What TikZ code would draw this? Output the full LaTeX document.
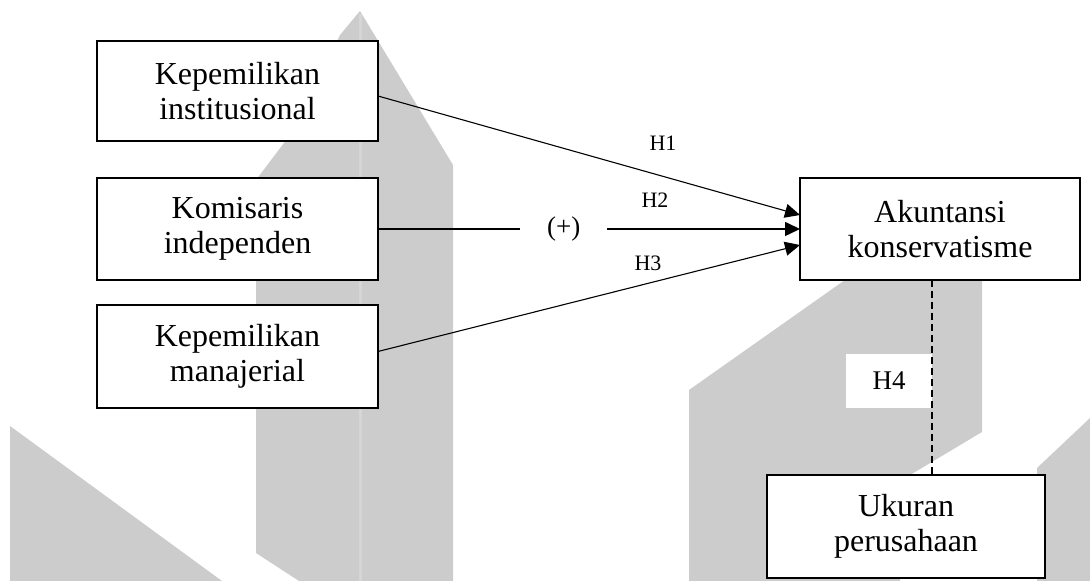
\documentclass[tikz,border=0pt]{standalone}
\usepackage{fontspec}
\setmainfont{Liberation Serif}
\usetikzlibrary{arrows.meta, calc}

\begin{document}
\begin{tikzpicture}[y=0.50pt, x=0.50pt, yscale=-1.000000, xscale=1.000000, inner sep=0pt, outer sep=0pt,
	varbox/.style={rectangle, draw=black, line width=0.9, fill=white, minimum width=140.5, minimum height=50, align=center, font=\fontsize{16}{17.5}\selectfont},
	hlabel/.style={font=\fontsize{11}{13}\selectfont},
	link/.style={line width=0.55, -{Triangle[length=7.5pt, width=7pt]}}]
\useasboundingbox (0,0) rectangle (1090,581);
% watermark in the background
\fill[black!20] (360,11) -- (340,35) -- (290,135) -- (256,180) -- (256,553) -- (299,581) -- (453,581) -- (453,165) -- cycle;
\fill[black!20] (10,426) -- (222,581) -- (10,581) -- cycle;
\fill[black!20] (689,581) -- (689,390) -- (845,280) -- (982,280) -- (982,432) -- (900,481) -- (900,581) -- cycle;
\fill[black!20] (1037,581) -- (1037,468) -- (1090,418) -- (1090,581) -- cycle;
\draw[black!16, line width=1.5] (360,14) -- (360,581);
% variables
\node[varbox] (KI) at (237.5,91) {Kepemilikan\\institusional};
\node[varbox, minimum height=51] (KO) at (237.5,229) {Komisaris\\independen};
\node[varbox, minimum height=51.5] (KM) at (237.5,356.5) {Kepemilikan\\manajerial};
\node[varbox, minimum width=140, minimum height=51] (AK) at (940,229) {Akuntansi\\konservatisme};
\node[varbox, minimum width=139, minimum height=51.5] (UP) at (906,526.5) {Ukuran\\perusahaan};
% hypotheses
\node[hlabel] (H1) at (663,143) {H1};
\node[hlabel] (H2) at (655,200) {H2};
\node[hlabel] (H3) at (648,263) {H3};
\node[fill=white, minimum width=43, minimum height=27, font=\fontsize{13.5}{15}\selectfont] (H4) at (889,381) {H4};
\draw[link] ($(KI.east)+(0,5)$) -- ($(AK.west)+(0,-14)$);
\draw[link, line width=0.75] (KO.east) -- node[pos=0.44, fill=white, minimum width=43.5, minimum height=14, font=\fontsize{13.5}{15}\selectfont] (PL) {(+)} (AK.west);
\draw[link] ($(KM.east)+(0,-5)$) -- ($(AK.west)+(0,16)$);
\draw[line width=0.6, dash pattern=on 3.5pt off 2pt] (H4.east |- AK.south) -- (H4.east |- UP.north);
\end{tikzpicture}
\end{document}
